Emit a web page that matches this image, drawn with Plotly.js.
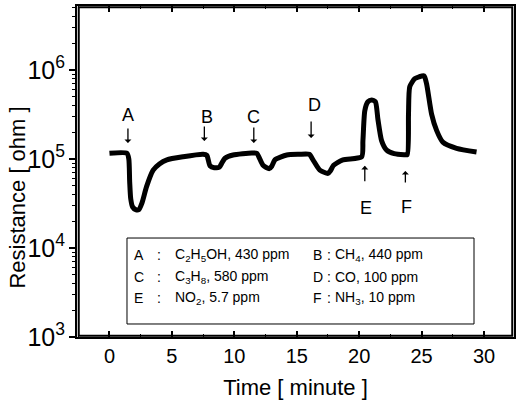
<!DOCTYPE html>
<html>
<head>
<meta charset="utf-8">
<script src="https://cdn.plot.ly/plotly-3.0.1.min.js"></script>
<style>
html,body{margin:0;padding:0;background:#fff;}
#chart{width:516px;height:408px;}
</style>
</head>
<body>
<div id="chart"></div>
<script>
// Time in minutes and resistance in ohm
const timeMin = [0.0, 1.4, 1.55, 1.62, 1.7, 1.85, 2.1, 2.35, 2.6, 2.97, 3.5, 4.0, 4.6, 5.9, 7.5,
  7.8, 8.05, 8.4, 8.8, 9.0, 9.25, 9.9, 11.4,
  11.8, 12.3, 12.8, 13.0, 13.25, 14.2, 15.2, 16.0,
  16.3, 16.85, 17.5, 17.7, 17.95, 18.7, 20.2,
  20.3, 20.45, 20.7, 21.0, 21.3, 21.5, 21.8, 22.2, 22.8, 23.6, 23.85,
  23.95, 24.05, 24.45, 24.8, 25.2, 25.4, 25.8, 26.2, 26.7, 27.8, 29.4];
const resistanceOhm = [1.16e5, 1.16e5, 1.0e5, 5.5e4, 3.6e4, 2.9e4, 2.7e4, 2.7e4, 3.2e4, 4.9e4, 7.5e4, 8.8e4, 9.8e4, 1.06e5, 1.13e5,
  1.1e5, 8.4e4, 8.0e4, 8.1e4, 9.0e4, 1.02e5, 1.11e5, 1.17e5,
  1.16e5, 8.5e4, 7.8e4, 8.3e4, 9.8e4, 1.11e5, 1.13e5, 1.13e5,
  9.8e4, 7.5e4, 6.9e4, 7.4e4, 8.5e4, 9.8e4, 1.06e5,
  1.6e5, 3.5e5, 4.4e5, 4.6e5, 4.4e5, 2.8e5, 1.6e5, 1.26e5, 1.15e5, 1.12e5, 1.12e5,
  3.2e5, 6.5e5, 8.0e5, 8.4e5, 8.6e5, 7.0e5, 3.2e5, 2.1e5, 1.55e5, 1.32e5, 1.2e5];

// Gas injection events
const eventLabels = ['A', 'B', 'C', 'D', 'E', 'F'];
const eventTimes = [1.48, 7.6, 11.56, 16.15, 20.45, 23.7];
const eventGases = ['C<sub>2</sub>H<sub>5</sub>OH, 430 ppm', 'CH<sub>4</sub>, 440 ppm',
  'C<sub>3</sub>H<sub>8</sub>, 580 ppm', 'CO, 100 ppm',
  'NO<sub>2</sub>, 5.7 ppm', 'NH<sub>3</sub>, 10 ppm'];

const FONT = 'Liberation Sans, Arial, Helvetica, sans-serif';

// layout helpers (pixel styling, not data)
const arrowTipY = [0.586, 0.592, 0.586, 0.601, 0.517, 0.5015];
const arrowAy = [-16, -16, -17, -18, 17, 13];
const labelY = [0.671, 0.665, 0.665, 0.701, 0.39, 0.393];
const labelShift = [0, 3, 0, 3, 1, 1];

const annotations = [];
eventLabels.forEach((lab, i) => {
  annotations.push({x: eventTimes[i], y: arrowTipY[i], xref: 'x', yref: 'paper', text: '',
    showarrow: true, ax: 0, ay: arrowAy[i], arrowhead: 1, arrowsize: 0.9, arrowwidth: 1.3, arrowcolor: '#000'});
  annotations.push({x: eventTimes[i], y: labelY[i], xref: 'x', yref: 'paper', text: lab, xshift: labelShift[i],
    showarrow: false, font: {family: FONT, size: 18, color: '#000'}, xanchor: 'center', yanchor: 'middle'});
});
// key box text
const rowY = [0.2477, 0.1813, 0.1178];
const colLetter = [0.1259, 0.5355];
const colColon = [0.1785, 0.5675];
const colText = [0.2197, 0.5858];
eventLabels.forEach((lab, i) => {
  const r = Math.floor(i / 2), c = i % 2;
  const f = {family: FONT, size: 14, color: '#000'};
  annotations.push({x: colLetter[c], y: rowY[r], xref: 'paper', yref: 'paper', text: lab, showarrow: false, xanchor: 'left', yanchor: 'middle', font: f});
  annotations.push({x: colColon[c], y: rowY[r], xref: 'paper', yref: 'paper', text: ':', showarrow: false, xanchor: 'left', yanchor: 'middle', font: f});
  annotations.push({x: colText[c], y: rowY[r], xref: 'paper', yref: 'paper', text: eventGases[i], showarrow: false, xanchor: 'left', yanchor: 'middle', font: f});
});
// y-axis title as annotation (placed lower than plot centre, like the reference)
annotations.push({x: -0.136, y: 0.42, xref: 'paper', yref: 'paper', text: 'Resistance [ ohm ]', textangle: -90,
  showarrow: false, xanchor: 'center', yanchor: 'middle', font: {family: FONT, size: 22, color: '#000'}});

const trace = {x: timeMin, y: resistanceOhm, type: 'scatter', mode: 'lines',
  line: {color: '#000', width: 5, shape: 'spline', smoothing: 0.6}, hoverinfo: 'x+y'};

const layout = {
  width: 516, height: 408,
  margin: {l: 77, r: 2, t: 6, b: 71},
  showlegend: false,
  font: {family: FONT, color: '#000'},
  xaxis: {range: [-2.6, 32.4], dtick: 5, tick0: 0, ticks: 'inside', ticklen: 6, tickwidth: 1.5, tickcolor: 'black',
    showline: true, linewidth: 2, linecolor: 'black', mirror: 'allticks', showgrid: false, zeroline: false,
    layer: 'above traces',
    minor: {dtick: 2.5, ticks: 'inside', ticklen: 3, tickwidth: 1, tickcolor: 'black', showgrid: false},
    tickfont: {family: FONT, size: 20},
    title: {text: 'Time [ minute ]', font: {family: FONT, size: 22}, standoff: 14}},
  yaxis: {type: 'log', range: [3, 6.72], dtick: 1, ticks: 'outside', ticklen: 6, tickwidth: 1.5, tickcolor: 'black',
    exponentformat: 'power', showline: true, linewidth: 2, linecolor: 'black', mirror: 'ticks',
    showgrid: false, zeroline: false, layer: 'above traces',
    minor: {dtick: 'D1', ticks: 'outside', ticklen: 3, tickwidth: 1, tickcolor: 'black', showgrid: false},
    tickfont: {family: FONT, size: 20}},
  shapes: [
    {type: 'rect', xref: 'paper', yref: 'paper', x0: 0.004, x1: 0.996, y0: 0.004, y1: 0.996, layer: 'above',
      line: {color: 'black', width: 2}, fillcolor: 'rgba(0,0,0,0)'},
    {type: 'rect', xref: 'paper', yref: 'paper', x0: 0.1144, x1: 0.9085, y0: 0.0393, y1: 0.299,
      line: {color: 'black', width: 1}, fillcolor: 'rgba(0,0,0,0)'}],
  annotations: annotations
};

Plotly.newPlot('chart', [trace], layout, {displayModeBar: false});
</script>
</body>
</html>
